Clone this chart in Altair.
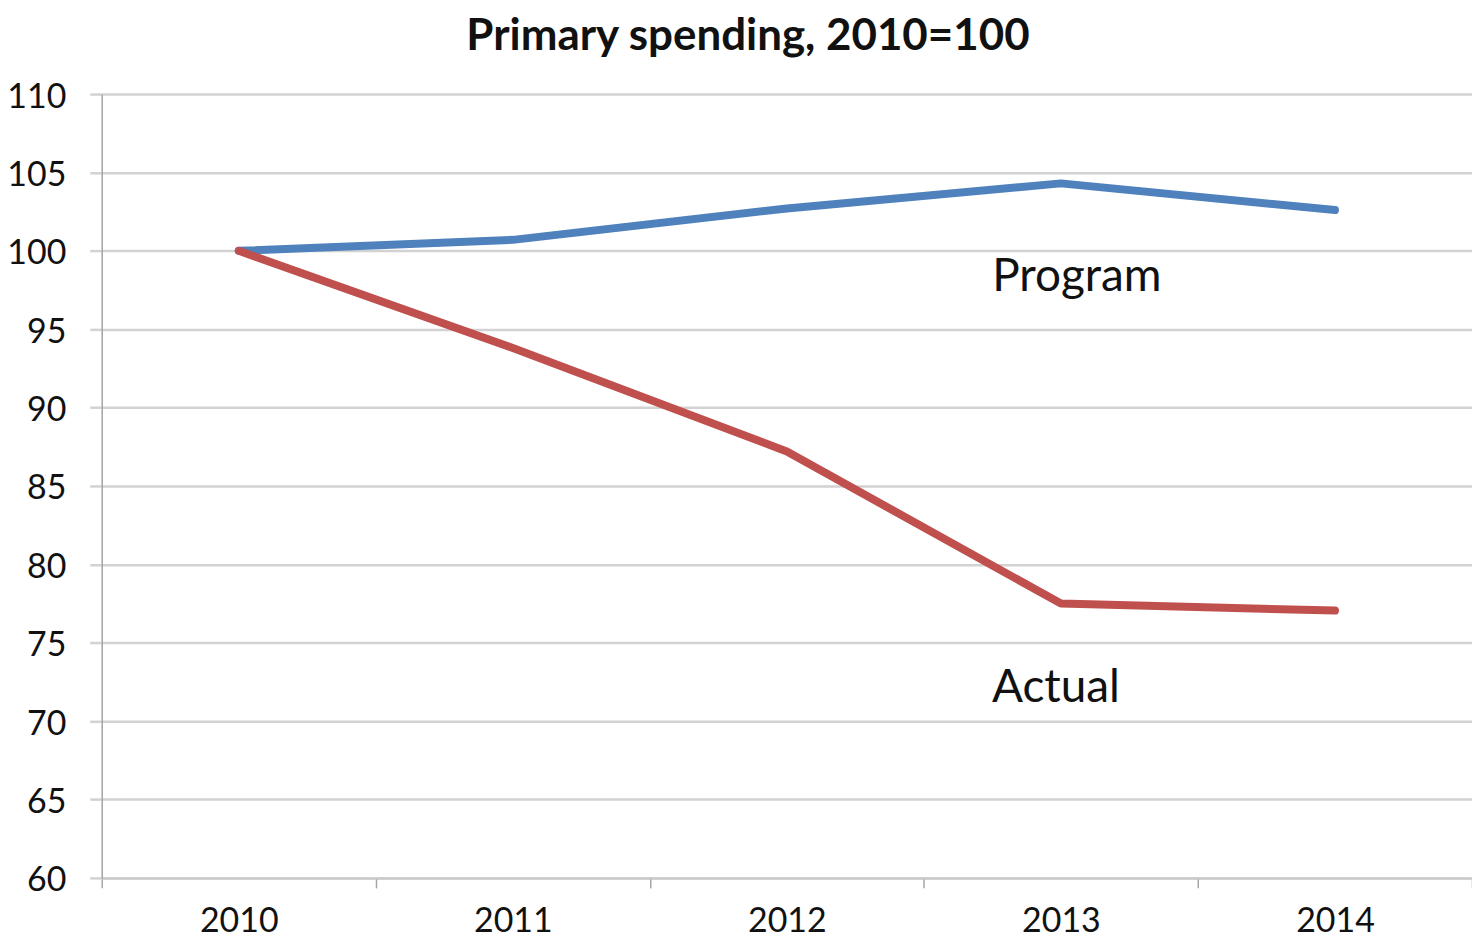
import altair as alt
import pandas as pd

years = ["2010", "2011", "2012", "2013", "2014"]
program = [100, 100.7, 102.7, 104.3, 102.6]
actual = [100, 93.8, 87.2, 77.5, 77.05]

label_text = ["Program", "Actual"]
label_year = ["2013", "2013"]
label_value = [98.3, 72.1]

series_colors = {"Program": "#4F81BD", "Actual": "#C0504D"}

rows = []
for y, p, a in zip(years, program, actual):
    rows.append({"year": y, "value": p, "series": "Program"})
    rows.append({"year": y, "value": a, "series": "Actual"})
df = pd.DataFrame(rows)

lab = pd.DataFrame({"text": label_text, "year": label_year, "value": label_value})

FONT = "Lato"

x_enc = alt.X(
    "year:O",
    sort=years,
    bandPosition=0.5,
    scale=alt.Scale(type="band", domain=years, paddingInner=0, paddingOuter=0),
    axis=alt.Axis(
        title=None, grid=False, labelAngle=0, tickBand="extent",
        labelFont=FONT, labelFontSize=34, labelColor="#111111", labelPadding=17,
        tickSize=10, tickColor="#a6a6a6", tickWidth=1.5,
        domainColor="#c8c8c8", domainWidth=2,
    ),
)
y_enc = alt.Y(
    "value:Q",
    scale=alt.Scale(domain=[60, 110], nice=False, zero=False),
    axis=alt.Axis(
        title=None, values=list(range(60, 111, 5)), grid=True,
        gridColor="#d2d2d2", gridWidth=2.5,
        tickColor="#d2d2d2", tickWidth=2.5, tickSize=12,
        domainColor="#a6a6a6", domainWidth=1.5,
        labelFont=FONT, labelFontSize=34, labelColor="#111111", labelPadding=24,
        labelOffset=3,
    ),
)

lines = alt.Chart(df).mark_line(strokeWidth=8, strokeCap="round", strokeJoin="round").encode(
    x=x_enc,
    y=y_enc,
    color=alt.Color(
        "series:N",
        scale=alt.Scale(domain=list(series_colors.keys()), range=list(series_colors.values())),
        legend=None,
    ),
)

labels_prog = alt.Chart(lab[lab.text == "Program"]).mark_text(
    font=FONT, fontSize=46, color="#111111", align="center", baseline="middle", dx=16
).encode(x=alt.X("year:O", sort=years, bandPosition=0.5), y="value:Q", text="text:N")

labels_act = alt.Chart(lab[lab.text == "Actual"]).mark_text(
    font=FONT, fontSize=46, color="#111111", align="center", baseline="middle", dx=-5
).encode(x=alt.X("year:O", sort=years, bandPosition=0.5), y="value:Q", text="text:N")

chart = alt.layer(lines, labels_prog, labels_act).properties(
    width=1374,
    height=786,
    title=alt.TitleParams(
        "Primary spending, 2010=100", font=FONT, fontSize=44, fontWeight="bold",
        color="#111111", anchor="middle", offset=21, dx=-39,
    ),
    autosize=alt.AutoSizeParams(type="none"),
    padding={"left": 94, "top": 85, "right": 0, "bottom": 63},
).configure_view(stroke=None).configure(background="white")

chart.save("out.html", embed_options={"renderer": "svg", "actions": False})
